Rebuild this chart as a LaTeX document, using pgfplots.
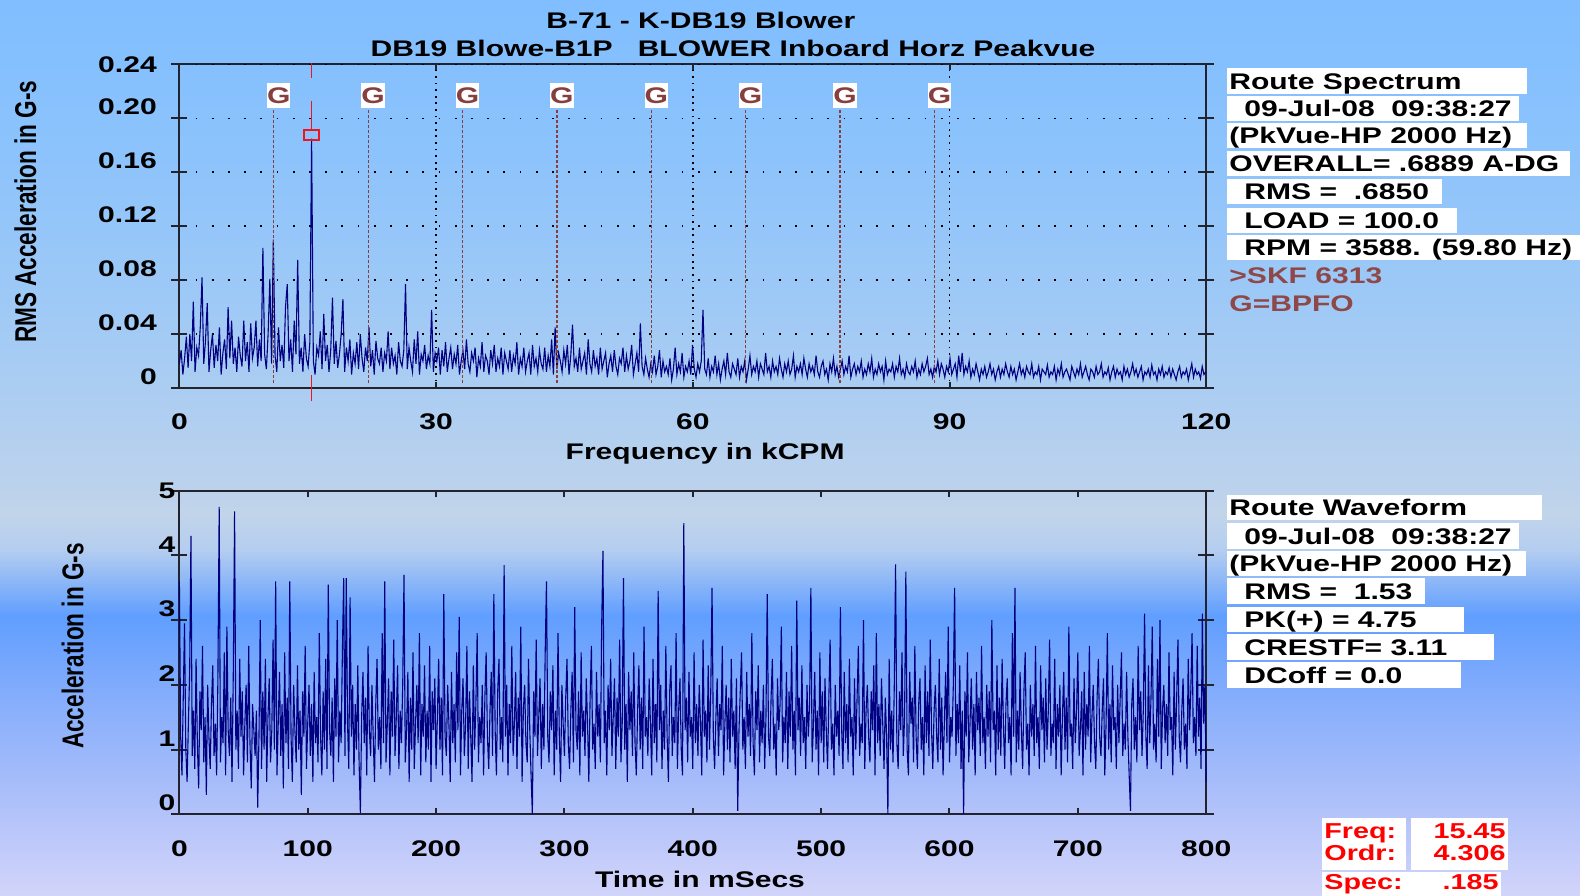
\documentclass[border=0pt]{standalone}
\usepackage{fontspec}
\setmainfont{Liberation Sans}[FakeStretch=1.33]
\newfontfamily\plainsans{Liberation Sans}
\usepackage{pgfplots}
\pgfplotsset{compat=1.18}

\definecolor{bg0}{RGB}{128,190,255}
\definecolor{bg1}{RGB}{140,195,252}
\definecolor{bg2}{RGB}{158,201,246}
\definecolor{bg3}{RGB}{178,207,240}
\definecolor{bg4}{RGB}{193,212,234}
\definecolor{bg5}{RGB}{180,205,240}
\definecolor{bg6}{RGB}{96,158,255}
\definecolor{bg7}{RGB}{130,172,252}
\definecolor{bg8}{RGB}{170,190,250}
\definecolor{bg9}{RGB}{210,212,250}
\definecolor{wave}{RGB}{0,0,128}
\definecolor{axcol}{RGB}{35,35,45}
\definecolor{gcol}{RGB}{135,62,62}
\definecolor{skf}{RGB}{142,72,72}
\definecolor{cur}{RGB}{240,20,30}

\newcommand\tfont{\fontsize{11.3}{13}\selectfont\bfseries}
\newcommand\rfont{\fontsize{10.8}{12}\selectfont\bfseries}
\newcommand\yfont{\plainsans\fontsize{11.3}{13}\selectfont\bfseries}

% info box: right edge (px), top (px), indent (px), text
\newcommand\ibox[4]{%
  \fill[white] (1227,#2) rectangle (#1,#2+25.5);
  \node[anchor=base west, inner sep=0pt, font=\tfont] at (1229+#3,#2+21) {#4};
}

\pgfplotsset{
  vib/.style={
    scale only axis, width=513.4pt, height=161.75pt, anchor=south west,
    axis line style={axcol, line width=1pt},
    tick style={axcol, line width=1pt},
    tick align=center, major tick length=8pt,
    major x tick style={draw=none},
    tick label style={font=\tfont},
    xticklabel style={yshift=-5.5pt},
    label style={font=\tfont},
    clip=false,
  },
}

\begin{document}
\begin{tikzpicture}
\begin{scope}
\clip (0,0) rectangle (790pt,447.5pt);

% background gradient, in pixel units (y down)
\begin{scope}[shift={(0,447.5pt)}, x=0.5pt, y=-0.5pt]
  \shade[top color=bg0, bottom color=bg1] (0,0) rectangle (1580,151);
  \shade[top color=bg1, bottom color=bg2] (0,150) rectangle (1580,301);
  \shade[top color=bg2, bottom color=bg3] (0,300) rectangle (1580,431);
  \shade[top color=bg3, bottom color=bg4] (0,430) rectangle (1580,516);
  \shade[top color=bg4, bottom color=bg5] (0,515) rectangle (1580,551);
  \shade[top color=bg5, bottom color=bg6] (0,550) rectangle (1580,616);
  \shade[top color=bg6, bottom color=bg7] (0,615) rectangle (1580,691);
  \shade[top color=bg7, bottom color=bg8] (0,690) rectangle (1580,791);
  \shade[top color=bg8, bottom color=bg9] (0,790) rectangle (1580,895);
\end{scope}

% ---------------- spectrum ----------------
\begin{axis}[vib, at={(89.7pt,253.5pt)},
  xmin=0, xmax=120, ymin=0, ymax=0.24,
  xtick={0,30,60,90,120}, xticklabels={0,30,60,90,120},
  ytick={0,0.04,0.08,0.12,0.16,0.2}, yticklabels={0,0.04,0.08,0.12,0.16,0.20},
  extra y ticks={0.24}, extra y tick labels={0.24},
  extra y tick style={yticklabel style={yshift=-5.8pt}},
  yticklabel style={xshift=-3.8pt, yshift=5.8pt},
  ymajorgrids=true,
  major grid style={black, line width=0.9pt, dash pattern=on 0.9pt off 7.2pt},
  xlabel={Frequency in kCPM}, ylabel={RMS Acceleration in G-s},
  xlabel style={at={(axis description cs:0.512,-0.2025)}, anchor=center},
  ylabel style={at={(axis description cs:-0.150,0.545)}, anchor=center, font=\yfont, yscale=1.33},
]
\pgfplotsinvokeforeach{30,60,90}{
  \draw[black, line width=0.9pt, dash pattern=on 0.9pt off 2.4pt] (axis cs:#1,0) -- (axis cs:#1,0.24);
  \draw[axcol, line width=1pt] (axis cs:#1,0) -- ++(0,3pt) (axis cs:#1,0.24) -- ++(0,-3pt);
}
\addplot[wave, line width=0.55pt] table[header=false, row sep=\\, x expr=\coordindex*0.20329, y index=0] {
0.018\\ 0.028\\ 0.010\\ 0.022\\ 0.038\\ 0.015\\ 0.040\\ 0.020\\ 0.064\\ 0.012\\
0.030\\ 0.024\\ 0.045\\ 0.082\\ 0.018\\ 0.035\\ 0.063\\ 0.012\\ 0.028\\ 0.040\\
0.015\\ 0.032\\ 0.020\\ 0.045\\ 0.010\\ 0.026\\ 0.036\\ 0.014\\ 0.060\\ 0.022\\
0.050\\ 0.018\\ 0.030\\ 0.012\\ 0.038\\ 0.024\\ 0.016\\ 0.050\\ 0.020\\ 0.034\\
0.012\\ 0.048\\ 0.022\\ 0.030\\ 0.050\\ 0.016\\ 0.036\\ 0.020\\ 0.104\\ 0.025\\
0.014\\ 0.040\\ 0.081\\ 0.018\\ 0.110\\ 0.024\\ 0.012\\ 0.045\\ 0.020\\ 0.032\\
0.015\\ 0.060\\ 0.077\\ 0.020\\ 0.036\\ 0.012\\ 0.050\\ 0.025\\ 0.095\\ 0.018\\
0.030\\ 0.012\\ 0.040\\ 0.022\\ 0.016\\ 0.034\\ 0.185\\ 0.020\\ 0.010\\ 0.030\\
0.024\\ 0.042\\ 0.014\\ 0.055\\ 0.020\\ 0.032\\ 0.012\\ 0.028\\ 0.067\\ 0.018\\
0.035\\ 0.015\\ 0.025\\ 0.040\\ 0.066\\ 0.012\\ 0.030\\ 0.020\\ 0.036\\ 0.010\\
0.026\\ 0.018\\ 0.034\\ 0.014\\ 0.040\\ 0.022\\ 0.012\\ 0.030\\ 0.020\\ 0.045\\
0.016\\ 0.028\\ 0.010\\ 0.035\\ 0.022\\ 0.018\\ 0.030\\ 0.012\\ 0.026\\ 0.020\\
0.042\\ 0.014\\ 0.030\\ 0.018\\ 0.024\\ 0.010\\ 0.034\\ 0.020\\ 0.016\\ 0.028\\
0.077\\ 0.014\\ 0.030\\ 0.020\\ 0.012\\ 0.036\\ 0.018\\ 0.042\\ 0.010\\ 0.025\\
0.020\\ 0.032\\ 0.014\\ 0.024\\ 0.018\\ 0.058\\ 0.012\\ 0.026\\ 0.020\\ 0.030\\
0.010\\ 0.028\\ 0.016\\ 0.034\\ 0.012\\ 0.022\\ 0.030\\ 0.014\\ 0.025\\ 0.018\\
0.032\\ 0.010\\ 0.020\\ 0.028\\ 0.014\\ 0.036\\ 0.018\\ 0.012\\ 0.026\\ 0.020\\
0.030\\ 0.008\\ 0.022\\ 0.016\\ 0.034\\ 0.012\\ 0.024\\ 0.020\\ 0.010\\ 0.028\\
0.018\\ 0.032\\ 0.012\\ 0.022\\ 0.016\\ 0.030\\ 0.010\\ 0.026\\ 0.020\\ 0.014\\
0.028\\ 0.012\\ 0.024\\ 0.018\\ 0.034\\ 0.010\\ 0.022\\ 0.016\\ 0.030\\ 0.012\\
0.020\\ 0.026\\ 0.010\\ 0.032\\ 0.016\\ 0.022\\ 0.012\\ 0.028\\ 0.018\\ 0.014\\
0.030\\ 0.012\\ 0.024\\ 0.016\\ 0.036\\ 0.010\\ 0.045\\ 0.014\\ 0.026\\ 0.020\\
0.012\\ 0.028\\ 0.018\\ 0.032\\ 0.010\\ 0.024\\ 0.047\\ 0.016\\ 0.022\\ 0.012\\
0.030\\ 0.014\\ 0.020\\ 0.026\\ 0.010\\ 0.036\\ 0.018\\ 0.012\\ 0.028\\ 0.016\\
0.022\\ 0.010\\ 0.030\\ 0.014\\ 0.020\\ 0.026\\ 0.008\\ 0.018\\ 0.024\\ 0.012\\
0.028\\ 0.016\\ 0.010\\ 0.022\\ 0.018\\ 0.030\\ 0.012\\ 0.024\\ 0.014\\ 0.020\\
0.032\\ 0.010\\ 0.018\\ 0.026\\ 0.012\\ 0.048\\ 0.016\\ 0.010\\ 0.022\\ 0.014\\
0.008\\ 0.018\\ 0.012\\ 0.024\\ 0.010\\ 0.016\\ 0.028\\ 0.008\\ 0.020\\ 0.012\\
0.016\\ 0.010\\ 0.022\\ 0.006\\ 0.014\\ 0.030\\ 0.010\\ 0.018\\ 0.012\\ 0.026\\
0.008\\ 0.016\\ 0.012\\ 0.020\\ 0.010\\ 0.032\\ 0.014\\ 0.008\\ 0.018\\ 0.012\\
0.020\\ 0.058\\ 0.014\\ 0.010\\ 0.022\\ 0.008\\ 0.016\\ 0.012\\ 0.024\\ 0.010\\
0.018\\ 0.006\\ 0.014\\ 0.020\\ 0.010\\ 0.026\\ 0.012\\ 0.008\\ 0.018\\ 0.014\\
0.010\\ 0.022\\ 0.008\\ 0.016\\ 0.012\\ 0.020\\ 0.006\\ 0.014\\ 0.024\\ 0.010\\
0.016\\ 0.012\\ 0.020\\ 0.008\\ 0.018\\ 0.014\\ 0.010\\ 0.026\\ 0.012\\ 0.016\\
0.008\\ 0.020\\ 0.012\\ 0.016\\ 0.010\\ 0.022\\ 0.014\\ 0.008\\ 0.018\\ 0.012\\
0.020\\ 0.010\\ 0.014\\ 0.024\\ 0.008\\ 0.016\\ 0.012\\ 0.018\\ 0.010\\ 0.022\\
0.014\\ 0.008\\ 0.018\\ 0.012\\ 0.016\\ 0.010\\ 0.024\\ 0.012\\ 0.008\\ 0.016\\
0.020\\ 0.010\\ 0.014\\ 0.006\\ 0.018\\ 0.012\\ 0.022\\ 0.010\\ 0.016\\ 0.008\\
0.014\\ 0.020\\ 0.010\\ 0.016\\ 0.012\\ 0.024\\ 0.008\\ 0.014\\ 0.018\\ 0.010\\
0.016\\ 0.012\\ 0.020\\ 0.008\\ 0.014\\ 0.010\\ 0.018\\ 0.012\\ 0.022\\ 0.008\\
0.014\\ 0.010\\ 0.018\\ 0.012\\ 0.016\\ 0.006\\ 0.020\\ 0.010\\ 0.014\\ 0.012\\
0.018\\ 0.008\\ 0.016\\ 0.012\\ 0.022\\ 0.010\\ 0.014\\ 0.008\\ 0.018\\ 0.012\\
0.010\\ 0.016\\ 0.012\\ 0.020\\ 0.008\\ 0.014\\ 0.010\\ 0.018\\ 0.012\\ 0.016\\
0.022\\ 0.010\\ 0.014\\ 0.008\\ 0.016\\ 0.012\\ 0.020\\ 0.010\\ 0.018\\ 0.014\\
0.008\\ 0.016\\ 0.012\\ 0.022\\ 0.010\\ 0.014\\ 0.018\\ 0.008\\ 0.024\\ 0.012\\
0.026\\ 0.010\\ 0.016\\ 0.012\\ 0.020\\ 0.008\\ 0.014\\ 0.010\\ 0.018\\ 0.012\\
0.006\\ 0.014\\ 0.010\\ 0.016\\ 0.008\\ 0.012\\ 0.018\\ 0.010\\ 0.014\\ 0.006\\
0.012\\ 0.016\\ 0.008\\ 0.014\\ 0.010\\ 0.018\\ 0.012\\ 0.008\\ 0.016\\ 0.010\\
0.014\\ 0.006\\ 0.012\\ 0.018\\ 0.010\\ 0.014\\ 0.008\\ 0.016\\ 0.012\\ 0.010\\
0.018\\ 0.008\\ 0.012\\ 0.010\\ 0.016\\ 0.006\\ 0.014\\ 0.012\\ 0.010\\ 0.017\\
0.008\\ 0.012\\ 0.010\\ 0.016\\ 0.006\\ 0.014\\ 0.010\\ 0.018\\ 0.008\\ 0.012\\
0.014\\ 0.010\\ 0.006\\ 0.016\\ 0.012\\ 0.008\\ 0.014\\ 0.010\\ 0.018\\ 0.008\\
0.012\\ 0.016\\ 0.010\\ 0.006\\ 0.014\\ 0.012\\ 0.008\\ 0.016\\ 0.010\\ 0.012\\
0.018\\ 0.008\\ 0.012\\ 0.010\\ 0.015\\ 0.006\\ 0.012\\ 0.016\\ 0.008\\ 0.014\\
0.010\\ 0.012\\ 0.006\\ 0.016\\ 0.010\\ 0.014\\ 0.008\\ 0.012\\ 0.018\\ 0.010\\
0.014\\ 0.008\\ 0.012\\ 0.016\\ 0.006\\ 0.012\\ 0.010\\ 0.014\\ 0.008\\ 0.017\\
0.010\\ 0.012\\ 0.006\\ 0.014\\ 0.010\\ 0.016\\ 0.008\\ 0.012\\ 0.010\\ 0.015\\
0.008\\ 0.014\\ 0.010\\ 0.006\\ 0.012\\ 0.016\\ 0.008\\ 0.012\\ 0.010\\ 0.014\\
0.006\\ 0.012\\ 0.018\\ 0.008\\ 0.014\\ 0.010\\ 0.012\\ 0.007\\ 0.016\\ 0.010\\
0.012\\
};
% BPFO harmonic markers
\pgfplotsinvokeforeach{11.03,22.06,33.09,44.12,55.15,66.18,77.21,88.24}{
  \draw[gcol, line width=0.6pt, dash pattern=on 1.5pt off 1pt] (axis cs:#1,0.0035) -- (axis cs:#1,0.206);
  \node[fill=white, text=gcol, font=\tfont, inner sep=0pt, minimum width=11.5pt, minimum height=12.5pt, xshift=2.5pt] at (axis cs:#1,0.217) {G};
}
% cursor
\draw[cur, line width=0.8pt] (axis cs:15.45,0.2411) -- (axis cs:15.45,0.230)
  (axis cs:15.45,0.2127) -- (axis cs:15.45,0.1914)
  (axis cs:15.45,0.0096) -- (axis cs:15.45,-0.0096);
\draw[cur, line width=0.8pt] (axis cs:15.45,0.1877) ++(-3.75pt,-2.5pt) rectangle ++(7.5pt,5pt);
\end{axis}

% ---------------- waveform ----------------
\begin{axis}[vib, at={(89.7pt,40.4pt)},
  xmin=0, xmax=800, ymin=0, ymax=5,
  xtick={0,100,...,800}, xticklabels={0,100,200,300,400,500,600,700,800},
  ytick={0,1,2,3,4}, yticklabels={0,1,2,3,4},
  extra y ticks={5}, extra y tick labels={5},
  extra y tick style={yticklabel style={yshift=-5.5pt}},
  yticklabel style={xshift=5.5pt, yshift=5.5pt},
  xlabel={Time in mSecs}, ylabel={Acceleration in G-s},
  xlabel style={at={(axis description cs:0.507,-0.2025)}, anchor=center},
  ylabel style={at={(axis description cs:-0.104,0.52)}, anchor=center, font=\yfont, yscale=1.33},
]
\pgfplotsinvokeforeach{100,200,300,400,500,600,700}{
  \draw[axcol, line width=1pt] (axis cs:#1,0) -- ++(0,3pt) (axis cs:#1,5) -- ++(0,-3pt);
}
\addplot[wave, line width=0.55pt] table[header=false, row sep=\\, x expr=\coordindex, y index=0] {
3.6\\ 1.2\\ 0.6\\ 1.8\\ 2.95\\ 1.0\\ 0.5\\ 1.4\\ 2.2\\ 4.3\\
0.9\\ 1.6\\ 0.7\\ 2.4\\ 1.1\\ 0.4\\ 1.9\\ 1.3\\ 2.6\\ 0.8\\
1.5\\ 0.3\\ 2.0\\ 1.2\\ 0.7\\ 1.7\\ 2.3\\ 0.9\\ 1.4\\ 0.6\\
2.1\\ 4.75\\ 0.8\\ 1.5\\ 1.1\\ 2.5\\ 0.6\\ 2.9\\ 1.3\\ 0.9\\
1.8\\ 0.5\\ 2.2\\ 4.68\\ 1.0\\ 1.6\\ 0.7\\ 2.4\\ 1.2\\ 1.9\\
0.6\\ 1.4\\ 2.0\\ 0.8\\ 2.6\\ 1.1\\ 0.4\\ 1.7\\ 1.3\\ 0.9\\
1.6\\ 0.1\\ 1.2\\ 3.0\\ 0.7\\ 1.9\\ 1.0\\ 2.4\\ 0.5\\ 1.5\\
2.1\\ 0.8\\ 1.3\\ 2.7\\ 1.0\\ 3.6\\ 0.6\\ 1.4\\ 2.2\\ 0.9\\
1.7\\ 0.4\\ 2.5\\ 1.1\\ 1.8\\ 0.7\\ 3.6\\ 1.2\\ 0.5\\ 2.0\\
1.3\\ 0.8\\ 2.3\\ 1.0\\ 1.6\\ 0.3\\ 1.9\\ 1.2\\ 2.6\\ 0.7\\
1.4\\ 2.0\\ 0.9\\ 1.7\\ 0.5\\ 2.2\\ 1.1\\ 1.5\\ 0.8\\ 2.8\\
1.2\\ 0.6\\ 1.9\\ 1.0\\ 2.4\\ 0.7\\ 3.55\\ 1.3\\ 0.9\\ 1.8\\
0.5\\ 2.1\\ 1.2\\ 3.0\\ 0.8\\ 1.6\\ 1.1\\ 2.5\\ 3.65\\ 0.9\\
3.65\\ 1.4\\ 0.7\\ 3.35\\ 1.2\\ 2.0\\ 0.6\\ 1.7\\ 1.0\\ 2.3\\
0.8\\ 0.02\\ 1.5\\ 2.2\\ 1.1\\ 1.8\\ 0.6\\ 2.6\\ 1.3\\ 0.9\\
2.0\\ 1.2\\ 0.5\\ 1.7\\ 2.4\\ 1.0\\ 1.5\\ 0.7\\ 2.8\\ 1.1\\
3.6\\ 0.8\\ 1.4\\ 2.1\\ 0.6\\ 1.9\\ 1.2\\ 2.7\\ 0.9\\ 1.5\\
2.3\\ 0.7\\ 1.6\\ 1.1\\ 2.0\\ 3.7\\ 0.8\\ 1.3\\ 2.2\\ 0.5\\
1.8\\ 1.0\\ 2.5\\ 0.7\\ 1.4\\ 2.0\\ 1.1\\ 2.8\\ 0.6\\ 1.7\\
1.2\\ 2.3\\ 0.8\\ 1.6\\ 1.0\\ 2.6\\ 0.5\\ 1.9\\ 1.3\\ 2.1\\
0.7\\ 1.5\\ 2.4\\ 1.0\\ 1.8\\ 0.6\\ 3.4\\ 1.2\\ 0.9\\ 2.0\\
1.4\\ 0.5\\ 2.2\\ 1.1\\ 1.7\\ 0.8\\ 2.5\\ 1.3\\ 3.05\\ 0.6\\
1.6\\ 2.1\\ 0.9\\ 1.4\\ 2.6\\ 0.7\\ 1.9\\ 1.2\\ 0.5\\ 2.3\\
1.0\\ 1.7\\ 2.8\\ 0.8\\ 1.5\\ 1.1\\ 2.0\\ 0.6\\ 1.8\\ 2.5\\
1.2\\ 0.7\\ 1.6\\ 2.2\\ 0.9\\ 3.4\\ 1.3\\ 0.6\\ 1.9\\ 2.4\\
1.0\\ 1.5\\ 0.8\\ 3.85\\ 1.2\\ 2.0\\ 0.6\\ 1.7\\ 1.1\\ 2.6\\
0.9\\ 1.4\\ 2.2\\ 0.7\\ 1.8\\ 1.2\\ 2.9\\ 0.5\\ 1.6\\ 2.0\\
1.1\\ 0.8\\ 2.4\\ 1.3\\ 0.6\\ 0.0\\ 1.9\\ 1.2\\ 2.7\\ 0.9\\
1.5\\ 2.1\\ 0.7\\ 1.7\\ 1.0\\ 2.5\\ 3.6\\ 1.2\\ 0.8\\ 1.9\\
1.3\\ 2.3\\ 0.6\\ 1.6\\ 1.0\\ 2.8\\ 1.2\\ 0.5\\ 2.0\\ 1.4\\
0.9\\ 1.8\\ 2.4\\ 1.1\\ 0.7\\ 1.6\\ 2.2\\ 0.8\\ 3.2\\ 1.3\\
1.0\\ 1.9\\ 0.6\\ 2.5\\ 1.2\\ 1.6\\ 0.9\\ 2.1\\ 1.4\\ 0.5\\
1.8\\ 2.6\\ 1.0\\ 1.4\\ 0.7\\ 2.2\\ 1.2\\ 1.7\\ 0.8\\ 2.9\\
4.07\\ 1.1\\ 1.6\\ 0.6\\ 2.0\\ 1.3\\ 2.4\\ 0.9\\ 1.5\\ 2.1\\
0.7\\ 1.8\\ 1.2\\ 2.7\\ 0.8\\ 1.4\\ 3.65\\ 1.0\\ 1.7\\ 0.5\\
2.2\\ 1.3\\ 1.9\\ 0.9\\ 2.5\\ 1.1\\ 0.6\\ 1.6\\ 2.3\\ 1.0\\
1.8\\ 0.7\\ 2.9\\ 1.2\\ 1.5\\ 0.9\\ 2.1\\ 1.4\\ 0.6\\ 2.4\\
1.1\\ 1.7\\ 0.8\\ 3.45\\ 1.3\\ 2.0\\ 0.7\\ 1.6\\ 1.0\\ 2.6\\
1.2\\ 0.5\\ 1.9\\ 2.3\\ 0.9\\ 1.5\\ 1.1\\ 2.8\\ 0.7\\ 1.6\\
2.1\\ 1.0\\ 0.6\\ 4.5\\ 1.3\\ 1.8\\ 0.8\\ 2.2\\ 1.2\\ 1.5\\
0.7\\ 2.5\\ 1.1\\ 1.7\\ 0.9\\ 2.0\\ 1.4\\ 0.6\\ 2.7\\ 1.2\\
1.6\\ 0.8\\ 2.3\\ 1.0\\ 1.9\\ 3.5\\ 1.2\\ 0.7\\ 1.5\\ 2.1\\
0.9\\ 1.7\\ 1.3\\ 2.6\\ 0.6\\ 1.4\\ 2.0\\ 1.0\\ 1.8\\ 0.8\\
2.4\\ 1.2\\ 1.6\\ 0.7\\ 2.1\\ 0.05\\ 1.3\\ 1.9\\ 2.5\\ 1.0\\
1.5\\ 0.7\\ 2.2\\ 1.2\\ 1.7\\ 0.9\\ 2.8\\ 1.1\\ 0.6\\ 1.9\\
1.3\\ 2.3\\ 0.8\\ 1.6\\ 1.1\\ 2.0\\ 0.7\\ 1.5\\ 3.4\\ 1.2\\
0.9\\ 1.8\\ 2.4\\ 1.0\\ 1.4\\ 0.6\\ 2.1\\ 1.3\\ 1.7\\ 2.9\\
0.8\\ 1.5\\ 1.1\\ 2.2\\ 0.7\\ 1.9\\ 1.2\\ 2.6\\ 1.0\\ 1.6\\
0.6\\ 3.3\\ 1.3\\ 1.8\\ 0.9\\ 2.3\\ 1.1\\ 1.5\\ 0.7\\ 2.0\\
1.2\\ 1.7\\ 3.5\\ 0.8\\ 1.4\\ 2.2\\ 1.0\\ 1.6\\ 0.6\\ 2.5\\
1.1\\ 1.9\\ 0.8\\ 2.1\\ 1.3\\ 0.7\\ 1.8\\ 2.7\\ 1.0\\ 1.4\\
0.6\\ 2.0\\ 1.2\\ 1.6\\ 0.9\\ 3.2\\ 1.3\\ 0.7\\ 2.2\\ 1.1\\
1.7\\ 0.8\\ 2.4\\ 1.2\\ 1.5\\ 0.6\\ 2.1\\ 1.0\\ 1.8\\ 2.6\\
0.9\\ 1.4\\ 1.1\\ 3.0\\ 0.7\\ 1.6\\ 2.0\\ 1.2\\ 0.8\\ 1.9\\
1.3\\ 2.3\\ 0.6\\ 2.8\\ 1.1\\ 1.7\\ 0.9\\ 2.1\\ 1.4\\ 0.7\\
1.8\\ 1.2\\ 0.0\\ 2.4\\ 1.0\\ 1.6\\ 0.8\\ 2.0\\ 3.86\\ 1.1\\
0.7\\ 1.9\\ 1.3\\ 2.5\\ 0.9\\ 1.5\\ 3.75\\ 1.0\\ 0.6\\ 2.2\\
1.4\\ 1.8\\ 0.8\\ 2.6\\ 1.2\\ 0.7\\ 1.7\\ 2.1\\ 1.0\\ 1.5\\
0.6\\ 2.3\\ 1.1\\ 1.9\\ 0.9\\ 2.7\\ 1.3\\ 0.7\\ 1.6\\ 2.0\\
1.2\\ 0.8\\ 2.4\\ 1.0\\ 1.8\\ 0.6\\ 1.4\\ 2.2\\ 1.1\\ 2.9\\
0.8\\ 1.5\\ 1.2\\ 2.0\\ 3.5\\ 0.9\\ 1.7\\ 1.1\\ 2.3\\ 0.7\\
1.6\\ 0.0\\ 1.9\\ 1.2\\ 2.5\\ 0.8\\ 1.4\\ 2.1\\ 1.0\\ 1.7\\
0.6\\ 2.2\\ 1.3\\ 1.8\\ 0.9\\ 2.6\\ 1.1\\ 1.5\\ 0.7\\ 2.0\\
1.2\\ 1.9\\ 0.8\\ 3.0\\ 1.3\\ 1.6\\ 0.6\\ 2.3\\ 1.0\\ 1.8\\
0.9\\ 2.4\\ 1.4\\ 0.7\\ 1.7\\ 2.1\\ 1.1\\ 1.5\\ 0.6\\ 2.8\\
1.2\\ 3.5\\ 0.8\\ 1.6\\ 1.0\\ 2.2\\ 1.3\\ 0.7\\ 1.9\\ 2.5\\
1.0\\ 1.4\\ 0.6\\ 2.0\\ 1.2\\ 1.7\\ 0.9\\ 2.6\\ 1.1\\ 1.5\\
0.7\\ 2.3\\ 1.3\\ 1.8\\ 0.8\\ 2.1\\ 1.0\\ 1.6\\ 2.7\\ 0.9\\
1.4\\ 1.1\\ 2.4\\ 0.7\\ 1.7\\ 1.2\\ 2.0\\ 0.6\\ 1.5\\ 2.2\\
1.0\\ 1.8\\ 0.8\\ 2.9\\ 1.2\\ 1.4\\ 0.7\\ 2.1\\ 1.1\\ 1.6\\
2.5\\ 0.9\\ 1.3\\ 1.9\\ 0.6\\ 2.2\\ 1.0\\ 1.7\\ 1.2\\ 2.6\\
0.8\\ 1.5\\ 2.0\\ 1.1\\ 0.7\\ 1.8\\ 2.4\\ 1.2\\ 0.9\\ 1.6\\
2.1\\ 0.6\\ 1.4\\ 2.8\\ 1.0\\ 1.7\\ 0.8\\ 2.3\\ 1.3\\ 1.5\\
0.7\\ 2.0\\ 1.1\\ 1.8\\ 2.5\\ 0.9\\ 1.4\\ 1.0\\ 2.2\\ 1.2\\
0.6\\ 0.05\\ 1.7\\ 2.1\\ 1.0\\ 1.5\\ 0.8\\ 2.6\\ 1.3\\ 1.9\\
0.9\\ 1.6\\ 3.1\\ 1.2\\ 0.7\\ 2.3\\ 1.1\\ 1.8\\ 2.9\\ 1.0\\
1.4\\ 0.8\\ 2.4\\ 1.2\\ 3.0\\ 0.7\\ 1.6\\ 2.0\\ 1.1\\ 1.7\\
0.9\\ 2.5\\ 1.3\\ 1.5\\ 0.6\\ 2.2\\ 1.0\\ 1.8\\ 2.7\\ 1.2\\
0.8\\ 1.6\\ 2.1\\ 1.0\\ 1.4\\ 0.7\\ 2.4\\ 1.3\\ 1.9\\ 2.8\\
1.1\\ 1.5\\ 0.9\\ 2.6\\ 1.2\\ 1.8\\ 0.7\\ 3.1\\ 1.4\\ 2.0\\
0.5\\
};
\end{axis}

% ---------------- texts, in pixel units ----------------
\begin{scope}[shift={(0,447.5pt)}, x=0.5pt, y=-0.5pt]
  \node[anchor=base, inner sep=0pt, font=\tfont] at (700.8,28.3) {B-71 - K-DB19 Blower};
  \node[anchor=base, inner sep=0pt, font=\tfont] at (733,56.7) {DB19 Blowe-B1P\ \ \ BLOWER Inboard Horz Peakvue};

  \ibox{1527}{68.5}{0}{Route Spectrum}
  \ibox{1518.6}{95.7}{15}{09-Jul-08\ \ 09:38:27}
  \ibox{1526.7}{123}{0}{(PkVue-HP 2000 Hz)}
  \ibox{1570}{151}{0}{OVERALL= .6889 A-DG}
  \ibox{1441.7}{179}{15}{RMS =\ \ .6850}
  \ibox{1456.5}{207.6}{15}{LOAD = 100.0}
  \ibox{1580}{234.8}{15}{RPM = 3588. (59.80 Hz)}
  \node[anchor=base west, inner sep=0pt, font=\tfont, text=skf] at (1229,283.3) {>SKF 6313};
  \node[anchor=base west, inner sep=0pt, font=\tfont, text=skf] at (1229,311.5) {G=BPFO};

  \ibox{1541.7}{495}{0}{Route Waveform}
  \ibox{1518.8}{523.3}{15}{09-Jul-08\ \ 09:38:27}
  \ibox{1526}{551}{0}{(PkVue-HP 2000 Hz)}
  \ibox{1425.4}{578.3}{15}{RMS =\ \ 1.53}
  \ibox{1463.7}{606.7}{15}{PK(+) = 4.75}
  \ibox{1494.3}{634.3}{15}{CRESTF= 3.11}
  \ibox{1460.6}{662.3}{15}{DCoff = 0.0}

  \fill[white] (1322,818) rectangle (1406,870);
  \fill[white] (1411,818) rectangle (1507.5,870);
  \fill[white] (1322,872) rectangle (1501,900);
  \node[anchor=base west, inner sep=0pt, font=\rfont, text=red] at (1324,838.3) {Freq:};
  \node[anchor=base west, inner sep=0pt, font=\rfont, text=red] at (1324,860) {Ordr:};
  \node[anchor=base west, inner sep=0pt, font=\rfont, text=red] at (1324,889.3) {Spec:};
  \node[anchor=base east, inner sep=0pt, font=\rfont, text=red] at (1506,838.3) {15.45};
  \node[anchor=base east, inner sep=0pt, font=\rfont, text=red] at (1506,860) {4.306};
  \node[anchor=base east, inner sep=0pt, font=\rfont, text=red] at (1499,889.3) {.185};
\end{scope}
\end{scope}
\pgfresetboundingbox
\path[use as bounding box] (0,0) rectangle (790pt,447.5pt);
\end{tikzpicture}
\end{document}
